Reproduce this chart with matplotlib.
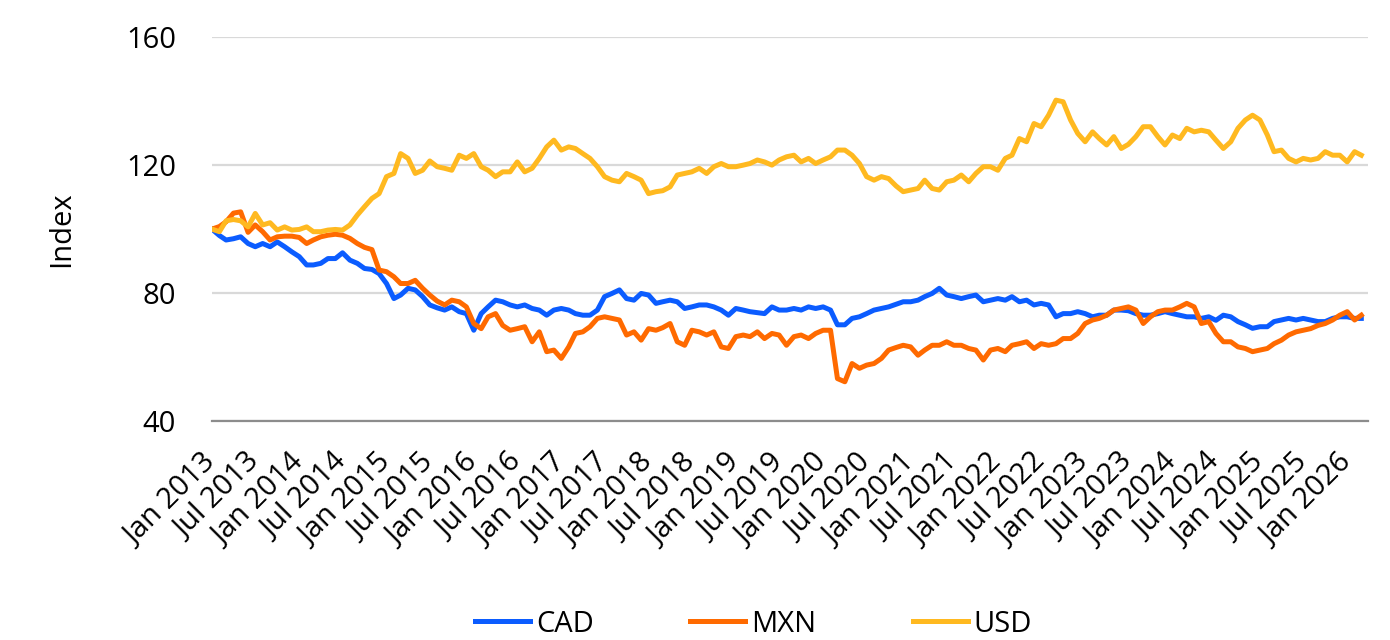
import matplotlib
matplotlib.use("Agg")
import matplotlib.pyplot as plt
import matplotlib.dates as mdates
import pandas as pd

# monthly readings, Jan 2013 - Mar 2026, index (Jan 2013 = 100)
dates = pd.date_range("2013-01-01", "2026-03-01", freq="MS")

cad = [100, 98, 96.6, 97, 97.6, 95.5, 94.5, 95.5, 94.5, 96, 94.5, 92.9, 91.4, 88.8, 88.8, 89.3,
       90.8, 90.8, 92.6, 90.3, 89.3, 87.7, 87.4, 86.1, 83, 78.3, 79.4, 81.5, 81, 78.9, 76.3, 75.4,
       74.7, 75.7, 74.2, 73.6, 68.4, 73.6, 75.7, 77.8, 77.3, 76.3, 75.7, 76.3, 75.2, 74.7, 73.1, 74.7,
       75.2, 74.7, 73.6, 73.1, 73.1, 74.7, 78.9, 79.9, 81, 78.3, 77.8, 79.9, 79.4, 76.8, 77.3, 77.8,
       77.3, 75.2, 75.7, 76.3, 76.3, 75.7, 74.7, 73.1, 75.2, 74.7, 74.2, 73.9, 73.6, 75.7, 74.7, 74.7,
       75.2, 74.7, 75.7, 75.2, 75.7, 74.7, 70.1, 70.1, 72.1, 72.6, 73.6, 74.7, 75.2, 75.7, 76.5, 77.3,
       77.3, 77.8, 78.9, 79.9, 81.5, 79.4, 78.9, 78.3, 78.9, 79.4, 77.3, 77.8, 78.3, 77.8, 78.9, 77.3,
       77.8, 76.3, 76.8, 76.3, 72.6, 73.6, 73.6, 74.2, 73.6, 72.6, 73.1, 73.1, 74.7, 74.7, 74.5, 73.6,
       73.1, 73.1, 73.6, 74.2, 73.6, 73.1, 72.6, 72.6, 72.1, 72.6, 71.5, 73.1, 72.6, 71.1, 70.1, 69,
       69.5, 69.5, 71.1, 71.6, 72.1, 71.6, 72.1, 71.6, 71.1, 71.1, 72.1, 72.6, 72.6, 72.1, 72.1]

mxn = [100, 100.8, 102.3, 105, 105.4, 99, 101.3, 99.2, 96.6, 97.6, 97.8, 97.8, 97.4, 95.5, 96.6, 97.6,
       98.1, 98.4, 98.1, 97.1, 95.5, 94.3, 93.6, 87.2, 86.7, 85.1, 83, 83, 84, 81.5, 79.4, 77.5,
       76.3, 77.8, 77.3, 75.7, 70.5, 68.9, 72.6, 73.6, 69.9, 68.4, 68.9, 69.5, 64.8, 67.9, 61.7, 62.2,
       59.6, 63.2, 67.4, 67.9, 69.5, 72.1, 72.6, 72.1, 71.6, 66.9, 67.9, 65.3, 68.9, 68.4, 69.2, 70.5,
       64.8, 63.7, 68.4, 67.9, 66.9, 67.9, 63.2, 62.7, 66.4, 66.9, 66.4, 67.9, 65.8, 67.4, 66.9, 63.7,
       66.4, 66.9, 65.8, 67.4, 68.4, 68.4, 53.3, 52.3, 58, 56.5, 57.5, 58, 59.6, 62.2, 63, 63.7,
       63.2, 60.6, 62.2, 63.7, 63.7, 64.8, 63.7, 63.7, 62.7, 62.2, 59.1, 62.2, 62.7, 61.7, 63.7, 64.2,
       64.8, 62.7, 64.2, 63.7, 64.2, 65.8, 65.8, 67.4, 70.5, 71.6, 72.1, 73.1, 74.7, 75.2, 75.7, 74.7,
       70.5, 72.6, 74.2, 74.7, 74.7, 75.7, 76.8, 75.7, 70.5, 71.1, 67.4, 64.8, 64.8, 63.2, 62.7, 61.7,
       62.2, 62.7, 64.2, 65.3, 66.9, 67.9, 68.4, 68.9, 69.9, 70.5, 71.6, 73.1, 74.2, 71.6, 73.1]

usd = [100, 99.2, 102.6, 103, 102.6, 100.7, 104.9, 101.3, 102, 99.7, 100.7, 99.7, 99.9, 100.7, 99.2, 99.2,
       99.7, 99.9, 99.7, 101.3, 104.4, 107, 109.6, 111.1, 116.4, 117.4, 123.6, 122.1, 117.4, 118.4, 121.3, 119.5,
       119, 118.4, 123.1, 122.1, 123.6, 119.5, 118.4, 116.4, 117.9, 117.9, 121, 117.9, 119, 122.1, 125.7, 127.8,
       124.7, 125.7, 125.2, 123.6, 122.1, 119.5, 116.4, 115.3, 114.8, 117.4, 116.4, 115.3, 111.1, 111.7, 112, 113.2,
       116.9, 117.4, 117.9, 119, 117.4, 119.5, 120.5, 119.5, 119.5, 120, 120.5, 121.6, 121, 120, 121.6, 122.6,
       123.1, 121, 122.1, 120.5, 121.6, 122.6, 124.7, 124.7, 123.1, 120.5, 116.4, 115.3, 116.4, 115.8, 113.5, 111.7,
       112.2, 112.7, 115.3, 112.7, 112.2, 114.8, 115.3, 116.9, 114.8, 117.4, 119.5, 119.5, 118.4, 122.1, 123.1, 128.3,
       127.3, 133, 132, 135.6, 140.3, 139.8, 134.1, 129.9, 127.3, 130.4, 128.3, 126.3, 128.9, 125.2, 126.5, 128.9,
       132, 132, 128.9, 126.3, 129.4, 128.3, 131.5, 130.4, 130.9, 130.4, 127.8, 125.2, 127.3, 131.5, 134.1, 135.6,
       134.1, 129.4, 124.2, 124.7, 122.1, 121, 122.1, 121.6, 122.1, 124.2, 123.1, 123.1, 121, 124.2, 123.1]

series = ["CAD", "MXN", "USD"]
colors = ["#0b5cff", "#ff6a00", "#ffb920"]

plt.rcParams["font.family"] = ["Open Sans", "DejaVu Sans"]

fig = plt.figure(figsize=(13.9, 6.4), dpi=100)
ax = fig.add_axes([0.1525, 0.342, 0.8315, 0.6])

for name, vals, c in zip(series, [cad, mxn, usd], colors):
    ax.plot(dates, vals, color=c, lw=3.6, label=name, solid_joinstyle="round")

ax.set_ylim(40, 160)
ax.set_yticks([40, 80, 120, 160])
ax.set_xlim(dates[0], pd.Timestamp("2026-03-28"))
ax.xaxis.set_major_locator(mdates.MonthLocator(bymonth=[1, 7]))
ax.xaxis.set_major_formatter(mdates.DateFormatter("%b %Y"))

ax.grid(axis="y", color="#d9d9d9", lw=1.6)
ax.set_axisbelow(True)
for s in ["top", "right", "left"]:
    ax.spines[s].set_visible(False)
ax.spines["bottom"].set_color("#8c8c8c")
ax.spines["bottom"].set_linewidth(1.6)

ax.tick_params(axis="y", length=0, pad=26, labelsize=21)
ax.tick_params(axis="x", length=0, pad=27, labelsize=21)
for lab in ax.get_xticklabels():
    lab.set_rotation(45)
    lab.set_ha("right")
    lab.set_va("center")
    lab.set_rotation_mode("anchor")

ax.set_ylabel("Index", fontsize=21, labelpad=36)

handles, labels = ax.get_legend_handles_labels()
fig.legend(handles, labels, loc="center", bbox_to_anchor=(0.542, 0.025), ncol=3, frameon=False,
           fontsize=21, handlelength=1.9, handletextpad=0.2, columnspacing=3.3)

fig.savefig("out.png", dpi=100)
